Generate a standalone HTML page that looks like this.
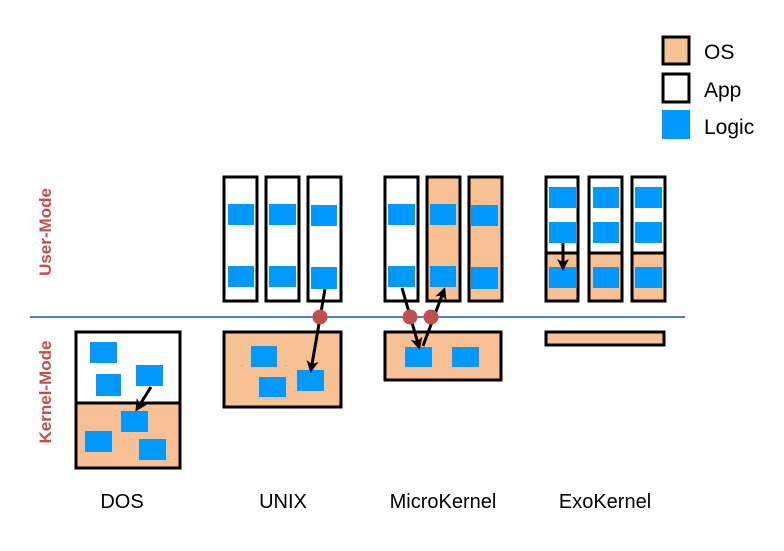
<!DOCTYPE html>
<html><head><meta charset="utf-8"><style>
html,body{margin:0;padding:0;background:#fff;}
svg{display:block;}
text{font-family:"Liberation Sans",sans-serif;}
</style></head><body>
<svg width="784" height="551" viewBox="0 0 784 551" xmlns="http://www.w3.org/2000/svg">
<defs>
<marker id="ah" markerWidth="12" markerHeight="12" refX="9" refY="6" orient="auto" markerUnits="userSpaceOnUse" viewBox="0 0 12 12">
<path d="M0,0 L12,6 L0,12 L3,6 z" fill="#000"/>
</marker>
</defs>
<g stroke="#000" stroke-width="3">
<rect x="663" y="37" width="26" height="27" fill="#f8c193"/>
<rect x="663" y="74" width="26" height="28" fill="#fff"/>
</g>
<rect x="662" y="110" width="28" height="29" fill="#0099ff"/>
<g font-size="21" fill="#000">
<text x="704" y="59">OS</text>
<text x="704" y="97">App</text>
<text x="704" y="134">Logic</text>
</g>

<line x1="30" y1="317" x2="685" y2="317" stroke="#4f81bd" stroke-width="2"/>
<text transform="translate(51,232) rotate(-90)" text-anchor="middle" font-size="17" font-weight="bold" fill="#c0504d">User-Mode</text>
<text transform="translate(51,392) rotate(-90)" text-anchor="middle" font-size="17" font-weight="bold" fill="#c0504d">Kernel-Mode</text>

<g stroke="#000" stroke-width="3">
<rect x="76" y="332" width="104" height="71" fill="#fff"/>
<rect x="76" y="403" width="104" height="65" fill="#f8c193"/>
<rect x="224" y="177" width="33" height="124" fill="#fff"/>
<rect x="266" y="177" width="33" height="124" fill="#fff"/>
<rect x="308" y="177" width="33" height="124" fill="#fff"/>
<rect x="224" y="332" width="117" height="75" fill="#f8c193"/>
<rect x="385" y="177" width="33" height="124" fill="#fff"/>
<rect x="427" y="177" width="33" height="124" fill="#f8c193"/>
<rect x="469" y="177" width="33" height="124" fill="#f8c193"/>
<rect x="385" y="332" width="116" height="48" fill="#f8c193"/>
<rect x="546" y="177" width="32" height="76" fill="#fff"/>
<rect x="546" y="253" width="32" height="48" fill="#f8c193"/>
<rect x="589" y="177" width="33" height="76" fill="#fff"/>
<rect x="589" y="253" width="33" height="48" fill="#f8c193"/>
<rect x="632" y="177" width="33" height="76" fill="#fff"/>
<rect x="632" y="253" width="33" height="48" fill="#f8c193"/>
<rect x="546" y="332" width="118" height="13" fill="#f8c193"/>
</g>

<g fill="#0099ff">
<rect x="90" y="342" width="27" height="21"/>
<rect x="96" y="374" width="25" height="22"/>
<rect x="136" y="365" width="27" height="21"/>
<rect x="121" y="411" width="27" height="21"/>
<rect x="85" y="431" width="27" height="21"/>
<rect x="139" y="439" width="27" height="21"/>
<rect x="228" y="204" width="26" height="21"/>
<rect x="228" y="266" width="26" height="21"/>
<rect x="269" y="204" width="27" height="21"/>
<rect x="269" y="266" width="27" height="21"/>
<rect x="311" y="205" width="26" height="21"/>
<rect x="311" y="267" width="26" height="22"/>
<rect x="251" y="346" width="26" height="21"/>
<rect x="259" y="377" width="27" height="20"/>
<rect x="297" y="370" width="27" height="21"/>
<rect x="388" y="204" width="27" height="21"/>
<rect x="388" y="266" width="27" height="21"/>
<rect x="430" y="204" width="26" height="21"/>
<rect x="430" y="266" width="26" height="21"/>
<rect x="471" y="205" width="27" height="21"/>
<rect x="471" y="267" width="27" height="22"/>
<rect x="405" y="347" width="27" height="20"/>
<rect x="452" y="347" width="27" height="20"/>
<rect x="549" y="187" width="27" height="21"/>
<rect x="549" y="222" width="27" height="21"/>
<rect x="549" y="267" width="27" height="21"/>
<rect x="593" y="187" width="26" height="21"/>
<rect x="593" y="222" width="26" height="21"/>
<rect x="593" y="267" width="26" height="21"/>
<rect x="635" y="187" width="27" height="21"/>
<rect x="635" y="222" width="27" height="21"/>
<rect x="635" y="267" width="27" height="21"/>
</g>

<g stroke="#000" stroke-width="3" marker-end="url(#ah)">
<line x1="151" y1="387" x2="137" y2="409"/>
<line x1="325" y1="289" x2="311" y2="370"/>
<line x1="402" y1="288" x2="419" y2="347"/>
<line x1="423" y1="346" x2="444" y2="290"/>
<line x1="563" y1="243" x2="563" y2="268"/>
</g>
<g fill="#c0504d">
<circle cx="320" cy="317" r="7.5"/>
<circle cx="410" cy="317" r="7.5"/>
<circle cx="431" cy="317" r="7.5"/>
</g>

<g font-size="20" fill="#000" text-anchor="middle">
<text x="122" y="508">DOS</text>
<text x="283" y="508">UNIX</text>
<text x="443" y="508">MicroKernel</text>
<text x="605" y="508">ExoKernel</text>
</g>
</svg>
</body></html>
